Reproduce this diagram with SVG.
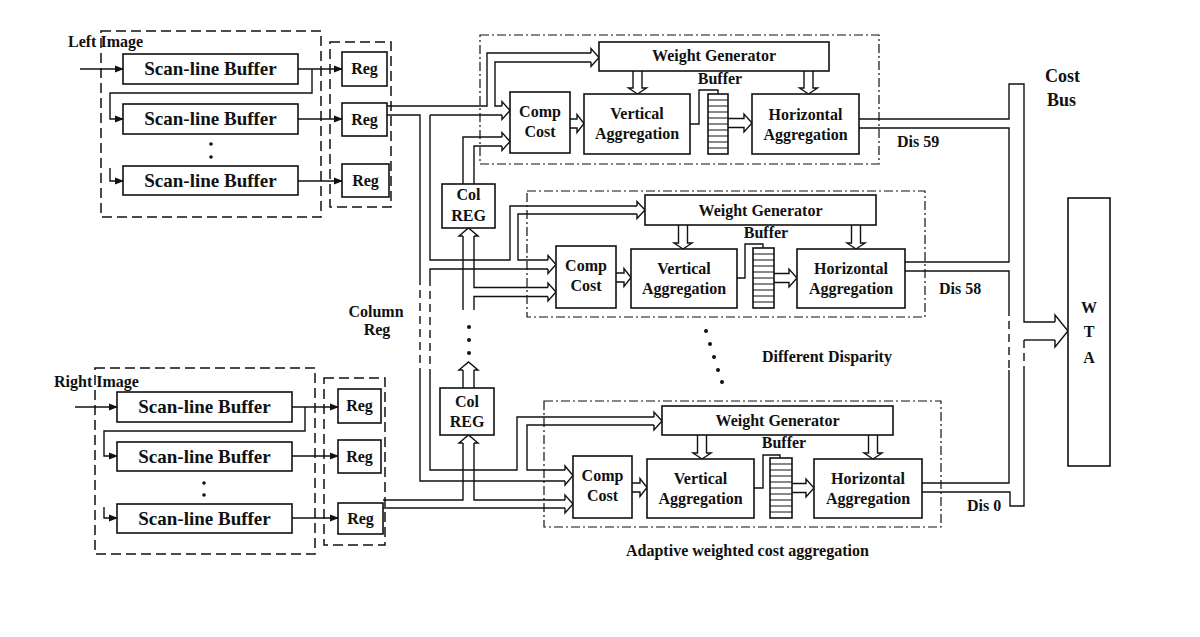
<svg xmlns="http://www.w3.org/2000/svg" width="1200" height="637" viewBox="0 0 1200 637">
<style>
.box{fill:#fff;stroke:#111;stroke-width:1.6}
.dash{fill:none;stroke:#111;stroke-width:1.5;stroke-dasharray:10 5}
.dd{fill:none;stroke:#111;stroke-width:1.2;stroke-dasharray:9 3 2 3}
.w{fill:none;stroke:#111;stroke-width:1.4}
.wd{fill:none;stroke:#111;stroke-width:1.4;stroke-dasharray:8 5}
.sl{fill:none;stroke:#111;stroke-width:1}
text{font-family:"Liberation Serif","Times New Roman",serif;font-weight:bold;fill:#111;font-size:16px}
.c{text-anchor:middle}
.big{font-size:19px}
.cb{font-size:18px}
.dot{fill:#111}
</style>
<defs>
<marker id="ah" markerWidth="9" markerHeight="8" refX="8" refY="4" orient="auto" markerUnits="userSpaceOnUse"><path d="M0,0.5 L9,4 L0,7.5 z" fill="#111"/></marker>
</defs>
<rect width="1200" height="637" fill="#fff"/>

<!-- Left image input -->
<g id="left-image">
<rect class="dash" x="101" y="31" width="220" height="186"/>
<text x="68" y="47" font-size="15">Left Image</text>
</g>
<g id="left-buf1"><rect class="box" x="123" y="54" width="175" height="30"/><text class="c big" x="210.5" y="75">Scan-line Buffer</text></g>
<g id="left-buf2"><rect class="box" x="123" y="104" width="175" height="30"/><text class="c big" x="210.5" y="125">Scan-line Buffer</text></g>
<g id="left-buf3"><rect class="box" x="123" y="166" width="175" height="29"/><text class="c big" x="210.5" y="187">Scan-line Buffer</text></g>
<g id="left-dots"><circle class="dot" cx="211" cy="144" r="1.8"/><circle class="dot" cx="211" cy="157" r="1.8"/></g>
<g id="left-regs-frame"><rect class="dash" x="330" y="42" width="61" height="165"/></g>
<g id="left-reg1"><rect class="box" x="342" y="52" width="45" height="34"/><text class="c" x="364.5" y="74">Reg</text></g>
<g id="left-reg2"><rect class="box" x="342" y="103" width="45" height="33"/><text class="c" x="364.5" y="125">Reg</text></g>
<g id="left-reg3"><rect class="box" x="342" y="164" width="47" height="33"/><text class="c" x="365.5" y="186">Reg</text></g>

<!-- Right image input -->
<g id="right-image">
<rect class="dash" x="95" y="368" width="220" height="186"/>
<text x="54" y="387" font-size="15">Right Image</text>
</g>
<g id="right-buf1"><rect class="box" x="117" y="392" width="175" height="30"/><text class="c big" x="204.5" y="413">Scan-line Buffer</text></g>
<g id="right-buf2"><rect class="box" x="117" y="442" width="175" height="29"/><text class="c big" x="204.5" y="463">Scan-line Buffer</text></g>
<g id="right-buf3"><rect class="box" x="117" y="504" width="175" height="29"/><text class="c big" x="204.5" y="525">Scan-line Buffer</text></g>
<g id="right-dots"><circle class="dot" cx="204" cy="483" r="1.8"/><circle class="dot" cx="204" cy="495" r="1.8"/></g>
<g id="right-regs-frame"><rect class="dash" x="324" y="378" width="61" height="167"/></g>
<g id="right-reg1"><rect class="box" x="338" y="389" width="43" height="34"/><text class="c" x="359.5" y="411">Reg</text></g>
<g id="right-reg2"><rect class="box" x="338" y="440" width="43" height="33"/><text class="c" x="359.5" y="462">Reg</text></g>
<g id="right-reg3"><rect class="box" x="338" y="503" width="45" height="31"/><text class="c" x="360.5" y="524">Reg</text></g>

<!-- Connectors -->
<g id="connectors">
<!-- left input chain -->
<line class="w" x1="80" y1="69" x2="123" y2="69" marker-end="url(#ah)"/>
<line class="w" x1="298" y1="69" x2="342" y2="69" marker-end="url(#ah)"/>
<polyline class="w" points="312,69 312,93 110,93 110,119 123,119" marker-end="url(#ah)"/>
<line class="w" x1="298" y1="119" x2="342" y2="119" marker-end="url(#ah)"/>
<polyline class="w" points="110,168 110,181 123,181" marker-end="url(#ah)"/>
<line class="w" x1="298" y1="181" x2="342" y2="181" marker-end="url(#ah)"/>
<!-- right input chain -->
<line class="w" x1="75" y1="407" x2="117" y2="407" marker-end="url(#ah)"/>
<line class="w" x1="292" y1="407" x2="338" y2="407" marker-end="url(#ah)"/>
<polyline class="w" points="305,407 305,431 104,431 104,456 117,456" marker-end="url(#ah)"/>
<line class="w" x1="292" y1="456" x2="338" y2="456" marker-end="url(#ah)"/>
<polyline class="w" points="104,507 104,518 117,518" marker-end="url(#ah)"/>
<line class="w" x1="292" y1="518" x2="338" y2="518" marker-end="url(#ah)"/>

<!-- left reg2 bus -->
<polyline class="w" points="387,106 487,106 487,53 591,53"/>
<polyline class="w" points="591,62 495,62 495,106 502,106"/>
<path class="w" d="M591,53 V48.5 L599,57.5 L591,66.5 V62"/>
<line class="w" x1="430" y1="115" x2="502" y2="115"/>
<path class="w" d="M502,106 V101.5 L510,110.5 L502,119.5 V115"/>
<polyline class="w" points="387,115 420,115 420,277"/>
<line class="wd" x1="420" y1="277" x2="420" y2="373"/>
<polyline class="w" points="420,373 420,481 565,481"/>
<polyline class="w" points="430,115 430,260 510,260 510,206 637,206"/>
<polyline class="w" points="637,214 518,214 518,260 548,260"/>
<path class="w" d="M637,206 V201.5 L645,210 L637,218.5 V214"/>
<polyline class="w" points="430,278 430,269 548,269"/>
<line class="wd" x1="430" y1="278" x2="430" y2="373"/>
<polyline class="w" points="430,373 430,470 517,470 517,417 654,417"/>
<polyline class="w" points="654,425 527,425 527,470 565,470"/>
<path class="w" d="M654,417 V412 L662,421 L654,430 V425"/>
<path class="w" d="M548,260 V255.5 L556,264.5 L548,273.5 V269"/>
<path class="w" d="M565,470 V466 L573,475.5 L565,485 V481"/>

<!-- col reg 1 -->
<polyline class="w" points="463,184 463,137 502,137"/>
<polyline class="w" points="474,184 474,146 502,146"/>
<path class="w" d="M502,137 V132.5 L510,141.5 L502,150.5 V146"/>
<path class="w" d="M463,236 H459 L468.5,228 L478,236 H474"/>
<line class="w" x1="463" y1="236" x2="463" y2="310"/>
<polyline class="w" points="474,236 474,287.5 548,287.5"/>
<polyline class="w" points="548,296.5 474,296.5 474,310"/>
<path class="w" d="M548,287.5 V283 L556,292 L548,301 V296.5"/>
<circle class="dot" cx="469" cy="327" r="2"/>
<circle class="dot" cx="469" cy="340" r="2"/>
<circle class="dot" cx="469" cy="353" r="2"/>

<!-- col reg 3 -->
<line class="w" x1="463" y1="388" x2="463" y2="370"/>
<line class="w" x1="474" y1="388" x2="474" y2="370"/>
<path class="w" d="M463,370 H459 L468.5,362 L478,370 H474"/>
<polyline class="w" points="383,500 463,500 463,443"/>
<path class="w" d="M463,443 H459 L468.5,435 L478,443 H474"/>
<polyline class="w" points="474,443 474,500 565,500"/>
<line class="w" x1="383" y1="508" x2="565" y2="508"/>
<path class="w" d="M565,500 V495 L573,504 L565,513 V508"/>

<!-- block 1 internal -->
<path class="w" d="M633,71 V88 H628.5 L637.5,94 L646.5,88 H642 V71"/>
<path class="w" d="M804,71 V88 H799.5 L808.5,94 L817.5,88 H813 V71"/>
<path class="w" d="M570,119 H577 V114.5 L584,123.5 L577,132.5 V128 H570"/>
<polyline class="w" points="690,124 699,124 699,90 718,90 718,94"/>
<path class="w" d="M728,118.5 H744 V114 L752,123 L744,132 V127.5 H728"/>
<!-- block 2 internal -->
<path class="w" d="M678.5,225 V243 H674 L683,249 L692,243 H687.5 V225"/>
<path class="w" d="M851.5,225 V243 H847 L856,249 L865,243 H860.5 V225"/>
<path class="w" d="M616,273 H624 V268.5 L631,277.5 L624,286.5 V282 H616"/>
<polyline class="w" points="737,278 745,278 745,244 763,244 763,248"/>
<path class="w" d="M774,273.5 H789 V269 L797,278 L789,287 V282.5 H774"/>
<!-- block 3 internal -->
<path class="w" d="M697.5,435 V453 H693 L702,459 L711,453 H706.5 V435"/>
<path class="w" d="M868.5,435 V453 H864 L873,459 L882,453 H877.5 V435"/>
<path class="w" d="M632,483 H640 V478.5 L647,487.5 L640,496.5 V492 H632"/>
<polyline class="w" points="754,488 763,488 763,455 780,455 780,458"/>
<path class="w" d="M792,483.5 H806 V479 L814,488 L806,497 V492.5 H792"/>

<!-- cost bus -->
<polyline class="w" points="859,119 1009,119 1009,84 1024,84 1024,322 1055,322"/>
<polyline class="w" points="859,128 1009,128 1009,262 905,262"/>
<polyline class="w" points="905,271 1009,271 1009,308"/>
<line class="wd" x1="1009" y1="308" x2="1009" y2="370"/>
<polyline class="w" points="1009,370 1009,483 922,483"/>
<polyline class="w" points="922,492 1010,492 1010,506 1024,506 1024,370"/>
<line class="wd" x1="1024" y1="340" x2="1024" y2="370"/>
<polyline class="w" points="1024,340 1055,340"/>
<path class="w" d="M1055,322 V315 L1068,331 L1055,347 V340"/>
</g>

<!-- Col REG nodes -->
<g id="col-reg1"><rect class="box" x="442" y="184" width="53" height="44"/><text class="c" x="468.5" y="200">Col</text><text class="c" x="468.5" y="221">REG</text></g>
<g id="col-reg3"><rect class="box" x="440" y="388" width="54" height="47"/><text class="c" x="467" y="407">Col</text><text class="c" x="467" y="427">REG</text></g>
<g id="column-reg-label"><text class="c" x="376" y="317">Column</text><text class="c" x="377" y="335">Reg</text></g>

<!-- Block 1 -->
<g id="block1">
<rect class="dd" x="480" y="35" width="399" height="129"/>
<rect class="box" x="599" y="42" width="230" height="29"/><text class="c" x="714" y="61">Weight Generator</text>
<rect class="box" x="510" y="92" width="60" height="61"/><text class="c" x="540" y="117">Comp</text><text class="c" x="540" y="137">Cost</text>
<rect class="box" x="584" y="94" width="106" height="60"/><text class="c" x="637" y="119">Vertical</text><text class="c" x="637" y="139">Aggregation</text>
<rect class="box" x="708" y="94" width="20" height="60"/>
<path class="sl" d="M708,100H728M708,106H728M708,112H728M708,118H728M708,124H728M708,130H728M708,136H728M708,142H728M708,148H728"/>
<text class="c" x="720" y="84">Buffer</text>
<rect class="box" x="752" y="94" width="107" height="60"/><text class="c" x="805.5" y="120">Horizontal</text><text class="c" x="805.5" y="140">Aggregation</text>
<text x="897" y="147">Dis 59</text>
</g>

<!-- Block 2 -->
<g id="block2">
<rect class="dd" x="527" y="191" width="398" height="126"/>
<rect class="box" x="645" y="195" width="231" height="30"/><text class="c" x="760.5" y="216">Weight Generator</text>
<rect class="box" x="556" y="246" width="60" height="62"/><text class="c" x="586" y="271">Comp</text><text class="c" x="586" y="291">Cost</text>
<rect class="box" x="631" y="249" width="106" height="59"/><text class="c" x="684" y="274">Vertical</text><text class="c" x="684" y="294">Aggregation</text>
<rect class="box" x="753" y="248" width="21" height="60"/>
<path class="sl" d="M753,254H774M753,260H774M753,266H774M753,272H774M753,278H774M753,284H774M753,290H774M753,296H774M753,302H774"/>
<text class="c" x="766" y="238">Buffer</text>
<rect class="box" x="797" y="249" width="108" height="59"/><text class="c" x="851" y="274">Horizontal</text><text class="c" x="851" y="294">Aggregation</text>
<text x="939" y="294">Dis 58</text>
</g>

<!-- Different disparity -->
<g id="disparity-dots">
<circle class="dot" cx="706" cy="331" r="2"/><circle class="dot" cx="710" cy="344" r="2"/><circle class="dot" cx="714" cy="357" r="2"/><circle class="dot" cx="718" cy="370" r="2"/><circle class="dot" cx="722" cy="382" r="2"/>
<text x="762" y="362">Different Disparity</text>
</g>

<!-- Block 3 -->
<g id="block3">
<rect class="dd" x="544" y="401" width="397" height="126"/>
<rect class="box" x="662" y="406" width="231" height="29"/><text class="c" x="777.5" y="426">Weight Generator</text>
<rect class="box" x="573" y="456" width="59" height="62"/><text class="c" x="602.5" y="481">Comp</text><text class="c" x="602.5" y="501">Cost</text>
<rect class="box" x="647" y="459" width="107" height="59"/><text class="c" x="700.5" y="484">Vertical</text><text class="c" x="700.5" y="504">Aggregation</text>
<rect class="box" x="770" y="458" width="22" height="60"/>
<path class="sl" d="M770,464H792M770,470H792M770,476H792M770,482H792M770,488H792M770,494H792M770,500H792M770,506H792M770,512H792"/>
<text class="c" x="784" y="448">Buffer</text>
<rect class="box" x="814" y="459" width="108" height="59"/><text class="c" x="868" y="484">Horizontal</text><text class="c" x="868" y="504">Aggregation</text>
<text x="967" y="511">Dis 0</text>
</g>
<text x="626" y="556">Adaptive weighted cost aggregation</text>

<!-- Cost bus label -->
<g id="cost-bus-label"><text class="cb" x="1045" y="82">Cost</text><text class="cb" x="1047" y="106">Bus</text></g>

<!-- WTA -->
<g id="wta">
<rect class="box" x="1068" y="198" width="42" height="268"/>
<text class="c" x="1089" y="313" font-size="17">W</text>
<text class="c" x="1089" y="337" font-size="17">T</text>
<text class="c" x="1089" y="363" font-size="17">A</text>
</g>
</svg>
